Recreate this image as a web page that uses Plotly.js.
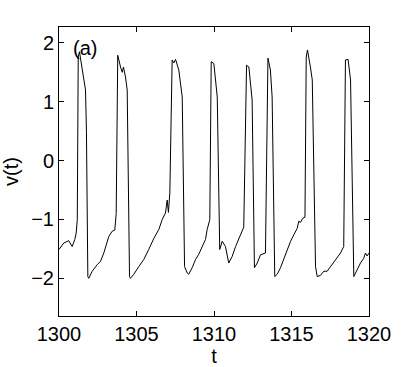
<!DOCTYPE html>
<html>
<head>
<meta charset="utf-8">
<script src="https://cdn.plot.ly/plotly-3.0.1.min.js"></script>
<style>html,body{margin:0;padding:0;background:#fff;}#chart{width:407px;height:367px;}</style>
</head>
<body>
<div id="chart"></div>
<script>
const t = [1300.0,1300.31,1300.63,1300.85,1301.02,1301.11,1301.18,1301.24,1301.32,1301.50,1301.71,1301.77,1301.86,1301.92,1302.14,1302.46,1302.68,1302.89,1303.21,1303.43,1303.60,1303.69,1303.79,1303.97,1304.08,1304.16,1304.29,1304.40,1304.55,1304.61,1304.83,1305.15,1305.47,1305.79,1306.12,1306.44,1306.66,1306.87,1306.98,1307.06,1307.15,1307.30,1307.41,1307.52,1307.73,1307.95,1308.10,1308.27,1308.37,1308.59,1308.81,1309.02,1309.24,1309.45,1309.56,1309.73,1309.82,1309.99,1310.21,1310.37,1310.53,1310.74,1310.95,1311.17,1311.39,1311.71,1311.92,1312.10,1312.25,1312.46,1312.61,1312.79,1313.00,1313.32,1313.48,1313.64,1313.75,1313.92,1314.08,1314.29,1314.50,1314.72,1314.94,1315.15,1315.37,1315.47,1315.58,1315.73,1315.87,1315.95,1316.03,1316.22,1316.34,1316.55,1316.66,1316.87,1317.08,1317.30,1317.52,1317.84,1318.16,1318.37,1318.48,1318.65,1318.81,1319.02,1319.24,1319.45,1319.66,1319.77,1319.88,1320.0];
const v = [-1.51,-1.40,-1.36,-1.46,-1.34,-1.23,-1.0,1.76,1.85,1.54,1.20,0.5,-1.97,-2.0,-1.88,-1.77,-1.71,-1.57,-1.29,-1.20,-1.18,-0.9,1.79,1.59,1.50,1.59,1.42,1.20,-1.97,-2.0,-1.93,-1.80,-1.68,-1.51,-1.32,-1.17,-1.00,-0.89,-0.67,-0.88,-0.55,1.71,1.66,1.72,1.54,1.08,-1.80,-1.91,-1.93,-1.82,-1.68,-1.59,-1.46,-1.34,-1.17,-1.00,1.68,1.65,1.08,-1.51,-1.37,-1.46,-1.74,-1.63,-1.46,-1.26,-1.13,1.62,1.59,1.03,-1.82,-1.74,-1.60,-1.57,1.74,1.54,1.08,-1.97,-1.93,-1.82,-1.68,-1.51,-1.37,-1.26,-1.15,-1.03,-1.05,-0.98,-0.96,1.76,1.88,1.59,1.37,-1.80,-1.97,-1.95,-1.88,-1.88,-1.80,-1.68,-1.57,-1.46,1.71,1.72,1.37,-1.97,-1.85,-1.74,-1.66,-1.57,-1.62,-1.57];
const xTicks = [1300,1305,1310,1315,1320];
const yTicks = [-2,-1,0,1,2];
const yTickText = ["\u22122","\u22121","0","1","2"];
const panelLabel = "(a)";

const font = {family: "Liberation Sans, Arial, sans-serif", size: 20, color: "#000"};
Plotly.newPlot("chart", [{
  x: t, y: v, type: "scatter", mode: "lines",
  line: {color: "#000", width: 1}, hoverinfo: "skip"
}], {
  width: 407, height: 367,
  margin: {l: 58.5, r: 38, t: 26.5, b: 51},
  paper_bgcolor: "#fff", plot_bgcolor: "#fff",
  showlegend: false,
  font: font,
  xaxis: {range: [1300, 1320], tickvals: xTicks, ticks: "inside", ticklen: 5, tickcolor: "#000",
    showline: true, linecolor: "#000", linewidth: 1, mirror: "ticks", showgrid: false, zeroline: false,
    tickfont: font, title: {text: "t", font: font, standoff: 0}},
  yaxis: {range: [-2.64, 2.27], tickvals: yTicks, ticktext: yTickText, ticks: "inside", ticklen: 5, tickcolor: "#000",
    showline: true, linecolor: "#000", linewidth: 1, mirror: "ticks", showgrid: false, zeroline: false,
    tickfont: font, title: {text: "v(t)", font: font, standoff: 10}},
  annotations: [{text: panelLabel, xref: "paper", yref: "paper", x: 0.038, y: 0.926,
    xanchor: "left", yanchor: "middle", showarrow: false, font: font}]
}, {staticPlot: true});
</script>
</body>
</html>
